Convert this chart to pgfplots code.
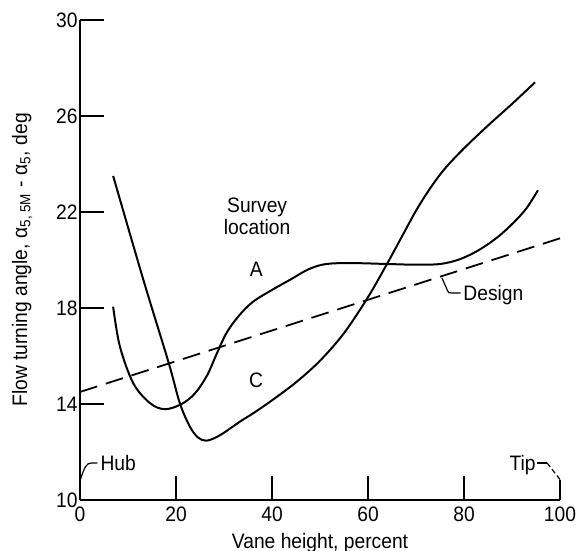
\documentclass[border=0pt]{standalone}
\usepackage{fontspec}
\setmainfont{Liberation Sans}[FakeStretch=0.92]
\usepackage{pgfplots}
\pgfplotsset{compat=1.18}
\begin{document}
\fontsize{10.5}{12.6}\selectfont
\begin{tikzpicture}
\begin{axis}[
  scale only axis, width=240bp, height=240bp,
  xmin=0, xmax=100, ymin=10, ymax=30,
  axis x line*=bottom, axis y line*=left,
  axis line style={line width=0.9pt, -},
  xtick={20,40,60,80}, extra x ticks={0,100},
  extra x tick style={major tick length=0pt},
  ytick={10,14,18,22,26,30},
  xtick align=inside, ytick align=inside,
  major tick length=12bp,
  tick style={line width=0.9pt, black},
  /pgf/number format/assume math mode=true,
  yticklabel style={inner sep=1pt},
  xlabel={Vane height, percent},
  ylabel={Flow turning angle, α\textsubscript{5, 5M} - α\textsubscript{5}, deg},
  every axis x label/.style={at={(axis description cs:0.5,-0.0896)},anchor=center},
  every axis y label/.style={at={(axis description cs:-0.1208,0.5)},rotate=90,anchor=center},
  clip=false,
]
% Survey location A
\addplot[line width=1pt, smooth, tension=0.55, no marks] coordinates {
(6.9,18.05) (8.3,16.4) (11.1,14.86) (14.6,14.03) (17.7,13.78) (21.2,14.0)
(24,14.45) (26.5,15.2) (28.5,16.1) (30.5,16.95) (33,17.65) (36,18.25)
(40,18.75) (44,19.2) (47.5,19.6) (51,19.82) (56,19.87) (64,19.83) (70,19.8)
(75,19.83) (79,20.02) (83,20.4) (87,20.95) (90.3,21.55) (93,22.15) (95.4,22.9)};
% Survey location C
\addplot[line width=1pt, smooth, tension=0.55, no marks] coordinates {
(6.9,23.5) (13.2,19.17) (18.4,15.76) (20.8,14.03) (22.9,13.05) (24.6,12.6)
(26.4,12.47) (29.2,12.7) (33.3,13.26) (36,13.6) (40,14.15) (45,14.9)
(50,15.8) (55,16.95) (60,18.45) (64,19.85) (67,20.95) (70,22.05) (73,23.0)
(76,23.8) (80,24.65) (85,25.6) (90,26.5) (94.8,27.4)};
% Design
\addplot[line width=0.9pt, dash pattern=on 9bp off 4.5bp, no marks] coordinates {
(0,14.5) (100,20.9)};

\node[align=center, font=\fontsize{10.5}{11}\selectfont] at (axis cs:36.9,21.83) {Survey\\location};
\node at (axis cs:36.7,19.62) {A};
\node at (axis cs:36.7,15.0) {C};

\draw[line width=0.6pt] (axis cs:75.4,19.25) -- (axis cs:76.5,18.75) .. controls (axis cs:76.8,18.62) .. (axis cs:77.5,18.62) -- (axis cs:79.3,18.62);
\node[anchor=base west, inner sep=0pt] at (axis cs:79.8,18.31) {Design};

\draw[line width=0.6pt] (axis cs:0,10.8) .. controls (axis cs:0.9,11.35) and (axis cs:1.3,11.54) .. (axis cs:2.4,11.54) -- (axis cs:3.6,11.54);
\node[anchor=base west, inner sep=0pt] at (axis cs:4.2,11.23) {Hub};

\draw[line width=0.6pt] (axis cs:95.3,11.54) -- (axis cs:97.3,11.54);
\draw[line width=0.6pt, dash pattern=on 2.5bp off 1.5bp] (axis cs:97.3,11.54) -- (axis cs:100,10.85);
\draw[line width=0.9pt] (axis cs:100,10.85) -- (axis cs:100,10);
\node[anchor=base west, inner sep=0pt] at (axis cs:89.4,11.23) {Tip};

\coordinate (bl) at (axis cs:-16.67,7.875);
\coordinate (tr) at (axis cs:103.33,30.83);
\end{axis}
\pgfresetboundingbox
\path[use as bounding box] (bl) rectangle (tr);
\end{tikzpicture}
\end{document}
